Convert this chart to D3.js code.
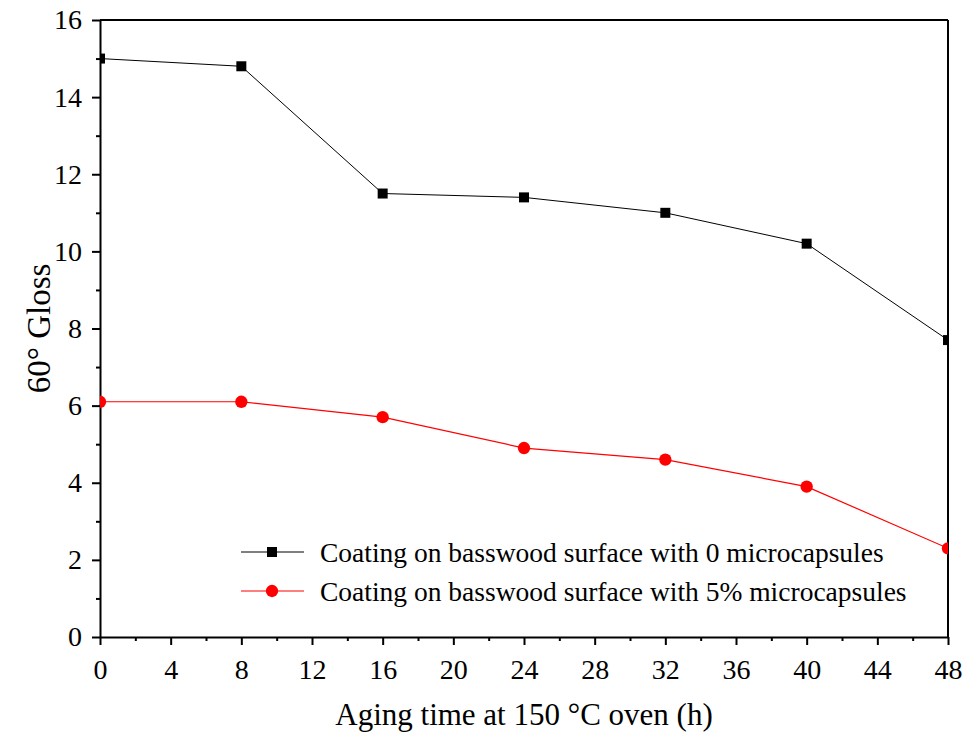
<!DOCTYPE html>
<html>
<head>
<meta charset="utf-8">
<script src="https://cdn.jsdelivr.net/npm/d3@7"></script>
<style>
  body { margin: 0; background: #fff; }
  text { font-family: "Liberation Serif", "Times New Roman", serif; fill: #000; }
</style>
</head>
<body>
<div id="grafico"></div>
<script>
// dados
const tempos = [0, 8, 16, 24, 32, 40, 48];
const brilhoSem = [15.0, 14.8, 11.5, 11.4, 11.0, 10.2, 7.7];
const brilhoCom = [6.1, 6.1, 5.7, 4.9, 4.6, 3.9, 2.3];
const ticksX = [0, 4, 8, 12, 16, 20, 24, 28, 32, 36, 40, 44, 48];
const ticksY = [0, 2, 4, 6, 8, 10, 12, 14, 16];
const nomesSeries = [
    "Coating on basswood surface with 0 microcapsules",
    "Coating on basswood surface with 5% microcapsules"
];

const width = 973;
const height = 733;
const margem = { left: 100, right: 25, top: 20, bottom: 96 };

const svg = d3.select("#grafico")
    .append("svg")
    .attr("width", width)
    .attr("height", height);

const x = d3.scaleLinear().domain([0, 48]).range([margem.left, width - margem.right]);
const y = d3.scaleLinear().domain([0, 16]).range([height - margem.bottom, margem.top]);

// recorte da area do grafico
svg.append("clipPath").attr("id", "recorte")
    .append("rect")
    .attr("x", x(0)).attr("y", y(16))
    .attr("width", x(48) - x(0)).attr("height", y(0) - y(16));

// ticks menores
const eixoXMenor = d3.axisBottom(x).tickValues(d3.range(2, 48, 4)).tickSize(4).tickFormat("");
const eixoYMenor = d3.axisLeft(y).tickValues(d3.range(1, 16, 2)).tickSize(4).tickFormat("");

svg.append("g").attr("transform", `translate(0,${y(0)})`).call(eixoXMenor)
    .call(g => g.select(".domain").remove())
    .selectAll("line").attr("stroke-width", 2);
svg.append("g").attr("transform", `translate(${x(0)},0)`).call(eixoYMenor)
    .call(g => g.select(".domain").remove())
    .selectAll("line").attr("stroke-width", 2);

// eixos principais
const gx = svg.append("g")
    .attr("transform", `translate(0,${y(0)})`)
    .call(d3.axisBottom(x).tickValues(ticksX).tickSize(8).tickSizeOuter(0).tickPadding(10));
const gy = svg.append("g")
    .attr("transform", `translate(${x(0)},0)`)
    .call(d3.axisLeft(y).tickValues(ticksY).tickSize(8).tickSizeOuter(0).tickPadding(10));

[gx, gy].forEach(g => {
    g.attr("font-size", null).attr("font-family", null);
    g.select(".domain").attr("stroke-width", 2);
    g.selectAll(".tick line").attr("stroke-width", 2);
    g.selectAll(".tick text").style("font-size", "28px");
});
gx.selectAll(".tick text").attr("dy", "0.85em");

// moldura superior e direita
svg.append("line")
    .attr("x1", x(0)).attr("x2", x(48)).attr("y1", y(16)).attr("y2", y(16))
    .attr("stroke", "#000").attr("stroke-width", 2);
svg.append("line")
    .attr("x1", x(48)).attr("x2", x(48)).attr("y1", y(16)).attr("y2", y(0))
    .attr("stroke", "#000").attr("stroke-width", 2);

// series
const series = [
    { valores: brilhoSem, cor: "#000", simbolo: d3.symbolSquare, larg: 1 },
    { valores: brilhoCom, cor: "#ff0000", simbolo: d3.symbolCircle, larg: 1.2 }
];

const linha = d3.line().x((d, i) => x(tempos[i])).y(d => y(d));
const area = svg.append("g").attr("clip-path", "url(#recorte)");

series.forEach(s => {
    area.append("path")
        .datum(s.valores)
        .attr("d", linha)
        .attr("fill", "none")
        .attr("stroke", s.cor)
        .attr("stroke-width", s.larg);

    area.selectAll(null)
        .data(s.valores)
        .enter()
        .append("path")
        .attr("d", d3.symbol().type(s.simbolo).size(s.simbolo === d3.symbolSquare ? 100 : 120))
        .attr("transform", (d, i) => `translate(${x(tempos[i])},${y(d)})`)
        .attr("fill", s.cor);
});

// legenda
const legenda = svg.append("g");
series.forEach((s, i) => {
    const ly = 552 + i * 39;
    legenda.append("line")
        .attr("x1", 241).attr("x2", 304).attr("y1", ly).attr("y2", ly)
        .attr("stroke", s.cor).attr("stroke-width", s.larg);
    legenda.append("path")
        .attr("d", d3.symbol().type(s.simbolo).size(s.simbolo === d3.symbolSquare ? 100 : 120))
        .attr("transform", `translate(272,${ly})`)
        .attr("fill", s.cor);
    legenda.append("text")
        .attr("x", 320).attr("y", ly)
        .attr("dy", "0.35em")
        .style("font-size", "27.5px")
        .text(nomesSeries[i]);
});

// titulos dos eixos
svg.append("text")
    .attr("x", (x(0) + x(48)) / 2)
    .attr("y", 725)
    .attr("text-anchor", "middle")
    .style("font-size", "31px")
    .text("Aging time at 150 °C oven (h)");

svg.append("text")
    .attr("transform", `translate(50,${(y(0) + y(16)) / 2}) rotate(-90)`)
    .attr("text-anchor", "middle")
    .style("font-size", "33px")
    .text("60° Gloss");
</script>
</body>
</html>
